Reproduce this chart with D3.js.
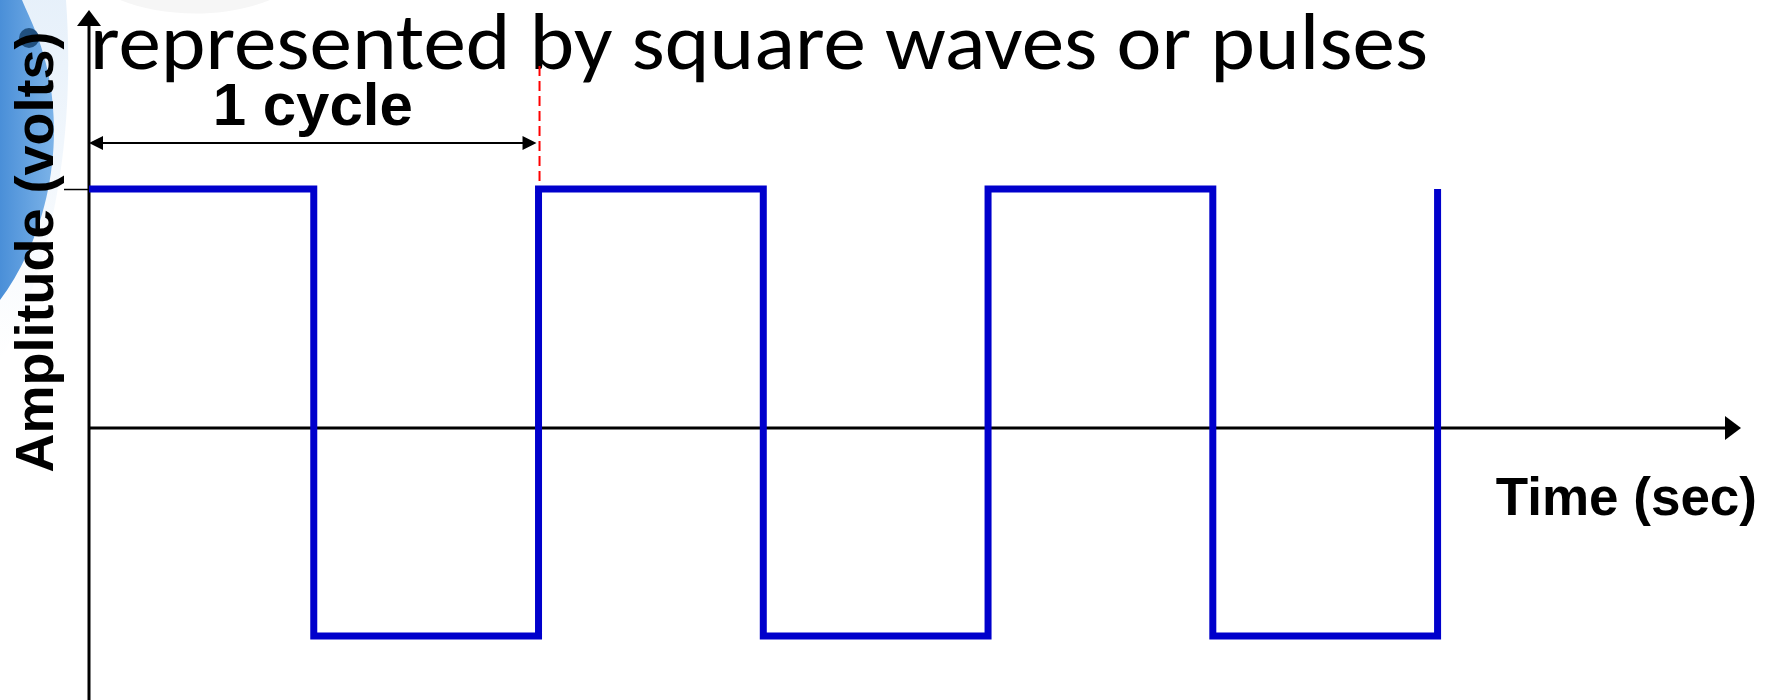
<!DOCTYPE html>
<html>
<head>
<meta charset="utf-8">
<script src="https://cdn.jsdelivr.net/npm/d3@7"></script>
<style>
  html, body { margin: 0; padding: 0; background: #fff; overflow: hidden; }
  svg { display: block; }
</style>
</head>
<body>
<svg id="chart"></svg>
<script>
// half-period boundaries (time units) and the level the wave holds after each one
const WAVE_T = [0, 1, 2, 3, 4, 5, 6];
const WAVE_V = [1, -0.87, 1, -0.87, 1, -0.87, 1];
const Y_TICKS = [1];
const CYCLE = [0, 2];

const TITLE = 'represented by square waves or pulses';
const CYCLE_LABEL = '1 cycle';
const X_LABEL = 'Time (sec)';
const Y_LABEL = 'Amplitude (volts)';

const W = 1774;
const H = 700;
const BLUE = '#0000cc';
const BOLD = '"Liberation Sans", Arial, sans-serif';

const svg = d3.select('#chart').attr('width', W).attr('height', H);

// slide template decoration on the left edge
const defs = svg.append('defs');
const grad = defs.append('linearGradient').attr('id', 'side').attr('x1', 0).attr('x2', 1);
grad.append('stop').attr('offset', 0).attr('stop-color', '#4a8fd8');
grad.append('stop').attr('offset', 1).attr('stop-color', '#7cb3e8');
const fade = defs.append('linearGradient').attr('id', 'fade').attr('x1', 0).attr('x2', 0).attr('y1', 0).attr('y2', 1);
fade.append('stop').attr('offset', 0).attr('stop-color', '#dceaf8');
fade.append('stop').attr('offset', 1).attr('stop-color', '#ffffff');

svg.append('path')
  .attr('d', 'M0,0 L66,0 C74,110 62,250 0,360 Z')
  .attr('fill', 'url(#fade)')
  .attr('opacity', 0.7);
svg.append('path')
  .attr('d', 'M0,0 L22,0 C30,20 54,60 54,130 C54,200 30,260 0,300 Z')
  .attr('fill', 'url(#side)');
svg.append('path')
  .attr('d', 'M120,0 C160,16 220,20 270,0 Z')
  .attr('fill', '#f6f6f6');

// bullet + title
svg.append('circle')
  .attr('cx', 29).attr('cy', 38).attr('r', 10)
  .attr('fill', '#21507f');

svg.append('text')
  .attr('x', 90)
  .attr('y', 69)
  .attr('font-family', 'Carlito, Calibri, Lato, sans-serif')
  .attr('font-size', 80)
  .attr('fill', '#000')
  .attr('textLength', 1338)
  .attr('lengthAdjust', 'spacingAndGlyphs')
  .text(TITLE);

const x = d3.scaleLinear().domain([0, 7.35]).range([89, 1741]);
const y = d3.scaleLinear().domain([-1.138, 1.749]).range([H, 10]);

// x axis at zero amplitude
const xAxis = svg.append('g')
  .attr('transform', `translate(0,${y(0)})`)
  .call(d3.axisBottom(x).tickValues([]).tickSizeOuter(0));
xAxis.select('.domain').attr('stroke', '#000').attr('stroke-width', 3)
  .attr('d', `M${x.range()[0]},0H${x.range()[1] - 14}`);

// y axis with a single tick at the high level
const yAxis = svg.append('g')
  .attr('transform', `translate(${x(0)},0)`)
  .call(d3.axisLeft(y).tickValues(Y_TICKS).tickSize(25).tickSizeOuter(0).tickFormat(''));
yAxis.select('.domain').attr('stroke', '#000').attr('stroke-width', 3)
  .attr('d', `M0,${y.range()[1] + 14}V${y.range()[0]}`);
yAxis.selectAll('.tick line').attr('stroke', '#000').attr('stroke-width', 1.5);

// axis arrowheads
const xEnd = x.range()[1];
const yTop = y.range()[1];
svg.append('path')
  .attr('d', `M${xEnd},${y(0)} L${xEnd - 16},${y(0) - 12} L${xEnd - 16},${y(0) + 12} Z`)
  .attr('fill', '#000');
svg.append('path')
  .attr('d', `M${x(0)},${yTop} L${x(0) - 12},${yTop + 16} L${x(0) + 12},${yTop + 16} Z`)
  .attr('fill', '#000');

// period marker
const cy = 143;
const c0 = x(CYCLE[0]);
const c1 = x(CYCLE[1]) - 2;
svg.append('line')
  .attr('x1', c0 + 10).attr('x2', c1 - 10)
  .attr('y1', cy).attr('y2', cy)
  .attr('stroke', '#000').attr('stroke-width', 2);
svg.append('path')
  .attr('d', `M${c0},${cy} L${c0 + 14},${cy - 7} L${c0 + 14},${cy + 7} Z M${c1},${cy} L${c1 - 14},${cy - 7} L${c1 - 14},${cy + 7} Z`)
  .attr('fill', '#000');

svg.append('line')
  .attr('x1', x(CYCLE[1]) + 1).attr('x2', x(CYCLE[1]) + 1)
  .attr('y1', 66).attr('y2', y(1))
  .attr('stroke', '#ff0000').attr('stroke-width', 2)
  .attr('stroke-dasharray', '10,5');

svg.append('text')
  .attr('x', (c0 + c1) / 2)
  .attr('y', 125)
  .attr('text-anchor', 'middle')
  .attr('font-family', BOLD)
  .attr('font-weight', 700)
  .attr('font-size', 60)
  .text(CYCLE_LABEL);

// square wave
const wave = WAVE_T.map((t, i) => ({ t, v: WAVE_V[i] }));
svg.append('path')
  .datum(wave)
  .attr('fill', 'none')
  .attr('stroke', BLUE)
  .attr('stroke-width', 7)
  .attr('stroke-linejoin', 'miter')
  .attr('d', d3.line().x((d) => x(d.t)).y((d) => y(d.v)).curve(d3.curveStepAfter));

// axis titles
svg.append('text')
  .attr('x', 1757)
  .attr('y', 515)
  .attr('text-anchor', 'end')
  .attr('font-family', BOLD)
  .attr('font-weight', 700)
  .attr('font-size', 53)
  .text(X_LABEL);

svg.append('text')
  .attr('transform', `translate(53,252) rotate(-90)`)
  .attr('text-anchor', 'middle')
  .attr('font-family', BOLD)
  .attr('font-weight', 700)
  .attr('font-size', 54)
  .text(Y_LABEL);
</script>
</body>
</html>
